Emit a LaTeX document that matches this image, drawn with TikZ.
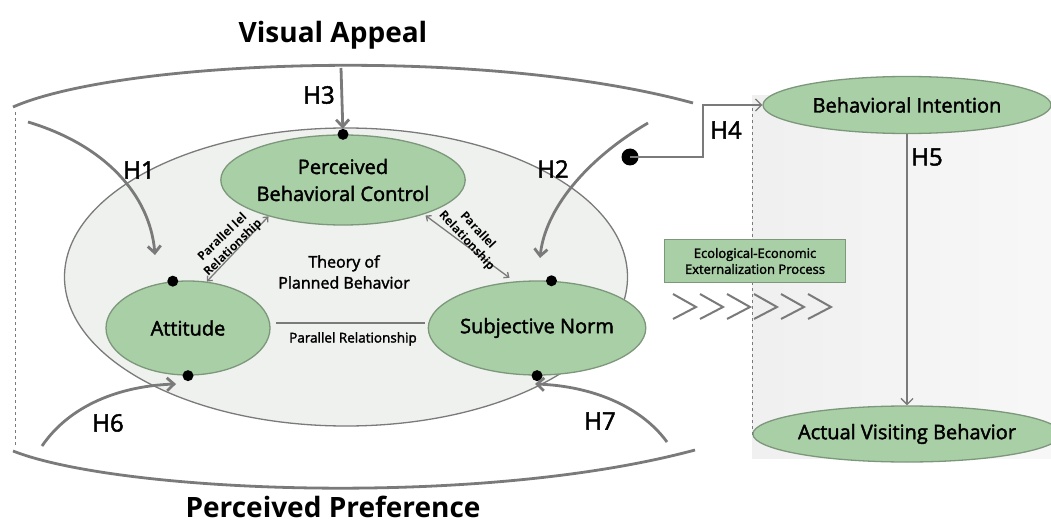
\documentclass[tikz,border=0pt]{standalone}
\usepackage{fontspec}
\setmainfont{Open Sans}
\newfontfamily\semifont{Open Sans}[FakeBold=2]
\usetikzlibrary{arrows.meta, positioning, shapes.geometric}

\definecolor{leafgreen}{HTML}{A9CFA6}
\definecolor{leafline}{HTML}{7D977B}
\definecolor{linkgray}{HTML}{7A7A7A}
\definecolor{tpbfill}{HTML}{EFF1EE}

\begin{document}
\begin{tikzpicture}[
    x=1pt, y=-1pt,
    % green ovals for the constructs
    oval/.style={
        ellipse, draw=leafline, fill=leafgreen, line width=1.3pt,
        inner sep=0pt, align=center,
        font=\semifont\fontsize{20}{27}\selectfont
    },
    ecobox/.style={
        rectangle, draw=leafline, fill=leafgreen, line width=1pt,
        minimum width=181pt, minimum height=43pt, align=center,
        font=\semifont\fontsize{13}{16}\selectfont
    },
    hypo/.style={-{Straight Barb[length=7pt,width=13pt]}, line width=2.8pt, draw=linkgray},
    thinlink/.style={-{Straight Barb[length=6pt,width=12pt]}, line width=1.3pt, draw=linkgray},
    parlink/.style={{Straight Barb[length=4pt,width=7pt]}-{Straight Barb[length=4pt,width=7pt]}, line width=1.3pt, draw=linkgray},
    hlabel/.style={font=\semifont\fontsize{24}{24}\selectfont},
    plabel/.style={font=\bfseries\fontsize{12}{15}\selectfont, align=center},
    dot/.style={circle, fill=black, inner sep=0pt, minimum size=11pt},
    bigdot/.style={circle, fill=black, inner sep=0pt, minimum size=17pt},
    title/.style={font=\bfseries\fontsize{28}{30}\selectfont}
]
  \useasboundingbox[fill=white] (0,0) rectangle (1051,521);

  % Right panel
  \fill[left color=black!6, right color=black!3] (752,96) rectangle (1051,458);

  % Outer arcs
  \draw[line width=2.8pt, linkgray] (13,107) .. controls (120,60) and (480,45) .. (693,103);
  \draw[line width=2.8pt, linkgray] (13,451) .. controls (120,493) and (480,508) .. (695,450);
  \draw[dashed, line width=1pt, linkgray] (15,112) -- (15,446);
  \node[title] (va) at (333,35) {Visual Appeal};
  \node[title, anchor=base] (pp) at (333,517) {Perceived Preference};

  % Theory of Planned Behavior
  \node[ellipse, draw=linkgray, fill=tpbfill, line width=1.3pt,
        minimum width=563pt, minimum height=298pt] (tpb) at (346,277) {};
  \node[font=\semifont\fontsize{16}{21}\selectfont, align=center] (tpbtext) at (344,272) {Theory of\\Planned Behavior};

  \node[oval, minimum width=236pt, minimum height=90pt] (pbc) at (343,180) {Perceived\\Behavioral Control};
  \node[oval, minimum width=164pt, minimum height=94pt] (att) at (188,328) {Attitude};
  \node[oval, minimum width=164pt, minimum height=94pt, right=157pt of att] (sn) {Subjective Norm};

  % Parallel relationships
  \draw[line width=2.4pt, linkgray, shorten <=5pt, shorten >=3pt] ([yshift=5pt]att.east) -- ([yshift=5pt]sn.west);
  \node[font=\semifont\fontsize{13.5}{15}\selectfont] (parbottom) at (353,339) {Parallel Relationship};
  \draw[parlink] (att.68) -- (pbc.206);
  \node[plabel, rotate=44] (parleft) at (228,243) {Parallel lel\\Relationship};
  \draw[parlink, shorten <=2pt, shorten >=6pt] (pbc.-23) -- (sn.116);
  \node[plabel, rotate=-47] (parright) at (472,236) {Parallel\\Relationship};

  % Dots on the constructs
  \node[dot] (pbcdot) at (pbc.north) {};
  \node[dot] (attup) at (att.108) {};
  \node[dot] (attdown) at (att.south) {};
  \node[dot] (snup) at (sn.73) {};
  \node[dot] (sndown) at (sn.south) {};

  % Hypotheses
  \coordinate (h1s) at (28,122);
  \coordinate (h1e) at (155,255);
  \coordinate (h2s) at (648,123);
  \coordinate (h2e) at (540,258);
  \coordinate (h3s) at (341,68);
  \coordinate (h6s) at (42,446);
  \coordinate (h6e) at (176,384);
  \coordinate (h7s) at (667,442);
  \coordinate (h7e) at (535,384);
  \draw[hypo] (h1s) .. controls (105,145) and (150,195) .. (h1e);
  \draw[hypo] (h2s) .. controls (585,160) and (545,210) .. (h2e);
  \draw[hypo] (h3s) -- (pbcdot);
  \draw[hypo] (h6s) .. controls (70,405) and (120,386) .. (h6e);
  \draw[hypo] (h7s) .. controls (640,405) and (590,386) .. (h7e);
  \node[hlabel] (h1) at (139,170) {H1};
  \node[hlabel] (h2) at (553,169) {H2};
  \node[hlabel] (h3) at (319,95) {H3};
  \node[hlabel] (h6) at (108,423) {H6};
  \node[hlabel] (h7) at (600,421) {H7};

  % Behavior side
  \node[oval, minimum width=288pt, minimum height=57pt] (bi) at (907,105) {Behavioral Intention};
  \node[oval, minimum width=290pt, minimum height=56pt] (avb) at (907,434) {Actual Visiting Behavior};
  \node[bigdot] (h4dot) at (630,157) {};
  \draw[thinlink] (h4dot.center) -- ++(73,0) |- (bi.west);
  \draw[thinlink] (bi) -- (avb);
  \node[hlabel] (h4) at (726,130) {H4};
  \node[hlabel] (h5) at (927,157) {H5};
  \coordinate (rtop) at (752,108);
  \draw[dashed, line width=1pt, linkgray] (rtop) |- (avb.west);

  % Externalization process
  \node[ecobox] (eco) at (755,261) {Ecological-Economic\\Externalization Process};
  \foreach \i in {0,...,5}
    \draw[line width=2pt, linkgray] ({673+27*\i},294) -- ++(23,13) -- ++(-23,12);

\end{tikzpicture}
\end{document}
